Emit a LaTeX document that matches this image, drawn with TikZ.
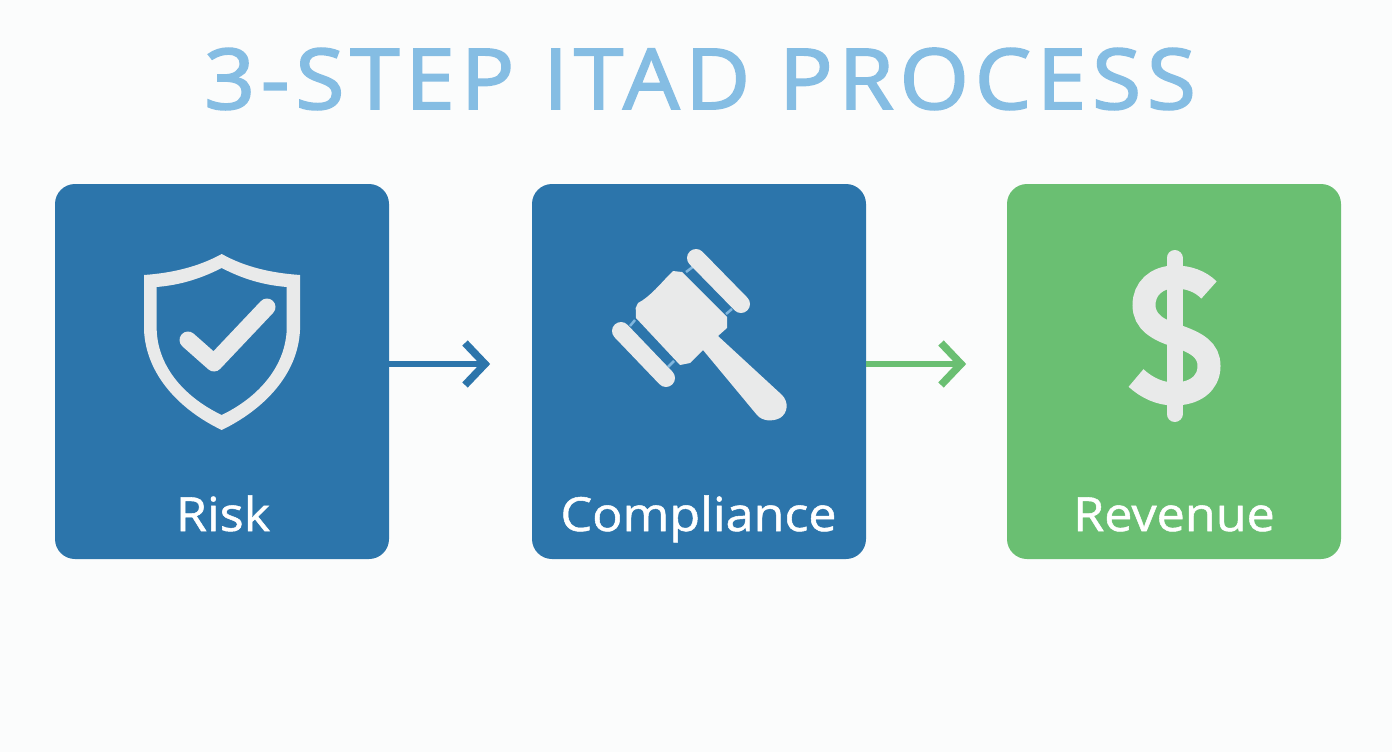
\documentclass[tikz,border=0pt]{standalone}
\usepackage{fontspec}
\setmainfont{Open Sans}
\newfontfamily\titlefont[LetterSpace=7,FakeStretch=1.06,FakeBold=2.2]{Open Sans}
\newfontfamily\labelfont[FakeStretch=1.07,FakeBold=1.1]{Open Sans}
\definecolor{pagebg}{HTML}{FBFCFC}
\definecolor{stepblue}{HTML}{2C75AB}
\definecolor{stepgreen}{HTML}{6ABF72}
\definecolor{titleblue}{HTML}{85BDE3}
\definecolor{iconwhite}{HTML}{E9EAEA}
\definecolor{linkblue}{HTML}{7FB6DE}
\tikzset{
  stepbox/.style={minimum width=334pt,minimum height=375pt,rounded corners=20pt,inner sep=0pt,outer sep=0pt},
  steplabel/.style={text=white,font=\labelfont\fontsize{47}{47}\selectfont,anchor=base,inner sep=0pt},
  iconfill/.style={fill=iconwhite,draw=none},
  iconline/.style={draw=iconwhite,line cap=round,line join=round},
  arrowline/.style={line width=6pt},
  arrowbarb/.style={line width=7.5pt,line join=miter},
  linkbit/.style={draw=linkblue,line width=2.5pt}
}
\begin{document}
\begin{tikzpicture}[x=1pt,y=-1pt]
\fill[pagebg] (0,0) rectangle (1392,752);
\useasboundingbox (0,0) rectangle (1392,752);
\node[text=titleblue,font=\titlefont\fontsize{84}{84}\selectfont,anchor=base,inner sep=0pt] (title) at (700,109) {3-STEP ITAD PROCESS};
\node[stepbox,fill=stepblue] (risk) at (222,371.5) {};
\node[stepbox,fill=stepblue] (comp) at (699,371.5) {};
\node[stepbox,fill=stepgreen] (rev) at (1174,371.5) {};
\node[steplabel] (risklabel) at (223,531) {Risk};
\node[steplabel] (complabel) at (698.5,531) {Compliance};
\node[steplabel] (revlabel) at (1174,531) {Revenue};
% arrows
\coordinate (tipa) at (485,364);
\coordinate (tipb) at (961,364);
\draw[stepblue,arrowline] (risk.east |- tipa) -- (tipa);
\draw[stepblue,arrowbarb] ([shift={(-20,-21)}]tipa) -- (tipa) -- ([shift={(-20,21)}]tipa);
\draw[stepgreen,arrowline] (comp.east |- tipb) -- (tipb);
\draw[stepgreen,arrowbarb] ([shift={(-20,-21)}]tipb) -- (tipb) -- ([shift={(-20,21)}]tipb);
% shield
\fill[iconfill,even odd rule]
  (221.7,254) .. controls (198,267) and (172,273) .. (144,275)
  -- (144,330) .. controls (146,375) and (180,410) .. (221.7,430)
  .. controls (263,410) and (298,375) .. (300,330) -- (300,275)
  .. controls (271,273) and (245,267) .. (221.7,254) -- cycle
  (221.7,268) .. controls (200,279) and (180,285) .. (156.7,287)
  -- (156.7,330) .. controls (158,368) and (186,398) .. (221.7,415)
  .. controls (257,398) and (285,368) .. (286.7,330) -- (286.7,287)
  .. controls (263,285) and (243,279) .. (221.7,268) -- cycle;
\draw[iconline,line width=17pt] (188,340) -- (214,363) -- (267,307);
% gavel
\draw[linkbit] (630,326) -- (635,320);
\draw[linkbit] (668,367) -- (674,361);
\draw[linkbit] (686,272) -- (694,266);
\draw[linkbit] (726,314) -- (732,309);
\draw[iconline,line width=18pt] (696,258) -- (741,304);
\draw[iconline,line width=18pt] (621,331) -- (666,378);
\fill[iconfill] (635.7,308) -- (638,303) .. controls (650,297) and (662,282) .. (670,274)
  -- (673,271) -- (682,272) -- (727,317) -- (727,328) -- (718,336) -- (782,395)
  .. controls (789,402) and (788,413) .. (780,418)
  .. controls (772,422) and (762,421) .. (757,415)
  -- (703,350) -- (690,363) -- (680,365) -- (636,318) -- cycle;
% dollar
\draw[iconline,line width=16pt] (1174.5,258) -- (1174.5,414);
\draw[iconfill,draw=iconwhite,fill=none,line width=23pt,line cap=butt]
  (1209,290) .. controls (1200,281) and (1188,277) .. (1175,277)
  .. controls (1156,277) and (1144,289) .. (1144,305)
  .. controls (1144,322) and (1158,330) .. (1177,336)
  .. controls (1197,343) and (1209,350) .. (1209,366)
  .. controls (1209,384) and (1194,394) .. (1174,394)
  .. controls (1160,394) and (1147,388) .. (1136,378);
\end{tikzpicture}
\end{document}
